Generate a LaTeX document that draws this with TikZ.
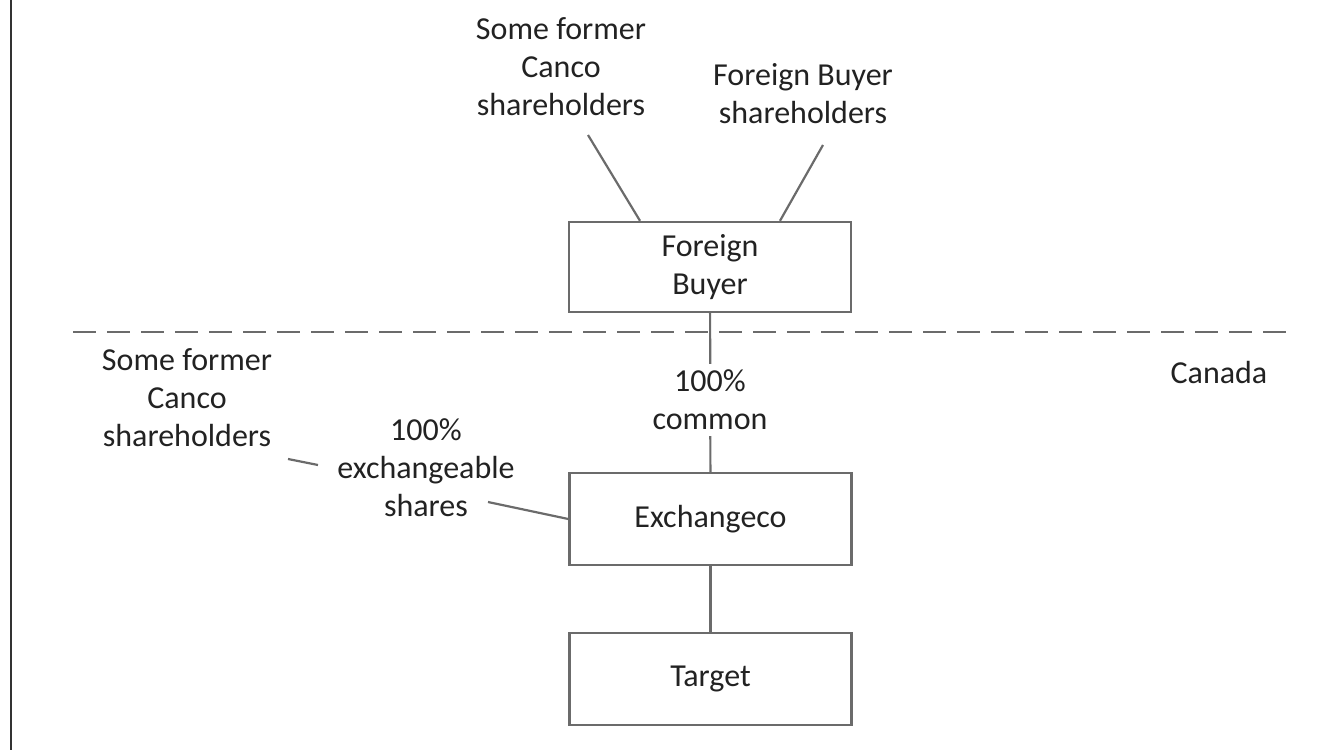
\documentclass[tikz,border=0pt]{standalone}
\usepackage{fontspec}
\setmainfont{Carlito}
\definecolor{linegray}{HTML}{6B6B6B}
\definecolor{textblack}{HTML}{222222}
\begin{document}
\begin{tikzpicture}[x=0.5pt,y=-0.5pt,
    every node/.style={text=textblack,font=\fontsize{16}{19}\selectfont,align=center},
    entity/.style={draw=linegray,line width=1.2pt,minimum width=141pt,minimum height=46pt,inner sep=0pt},
    link/.style={draw=linegray,line width=1.1pt}]
  \useasboundingbox (0,0) rectangle (1339,750);
  \draw[line width=1pt,black!80] (11,0) -- (11,750);
  \draw[linegray,line width=1.1pt,dash pattern=on 11.5pt off 5.5pt] (73,332) -- (1292,332);

  % boxes
  \node[entity,minimum height=45pt] (fb) at (710,267) {Foreign\\Buyer};
  \node[entity] (exch) at (710.5,519) {Exchangeco};
  \node[entity] (tgt) at (710.5,679) {Target};

  % holders and labels
  \node (topcanco) at (561,67) {Some former\\Canco\\shareholders};
  \node (fbholders) at (803,94) {Foreign Buyer\\shareholders};
  \node (leftcanco) at (187,398) {Some former\\Canco\\shareholders};
  \node (canada) at (1219,373) {Canada};
  \node (exlabel) at (426,468) {100\%\\exchangeable\\shares};

  \coordinate (tc) at (588,135);
  \coordinate (fbh) at (823,145);
  \coordinate (lc) at (288,459);
  \coordinate (ex1) at (318,465);
  \coordinate (ex2) at (488,502);

  \begin{scope}[link]
    \draw (tc) -- (fb.north -| 640,0);
    \draw (fbh) -- (fb.north -| 780,0);
    \draw (fb) -- (exch);
    \draw (exch) -- (tgt);
    \draw (lc) -- (ex1);
    \draw (ex2) -- (exch.west);
  \end{scope}
  \node[fill=white,inner sep=3pt] (common) at (710,400) {100\%\\common};
\end{tikzpicture}
\end{document}
